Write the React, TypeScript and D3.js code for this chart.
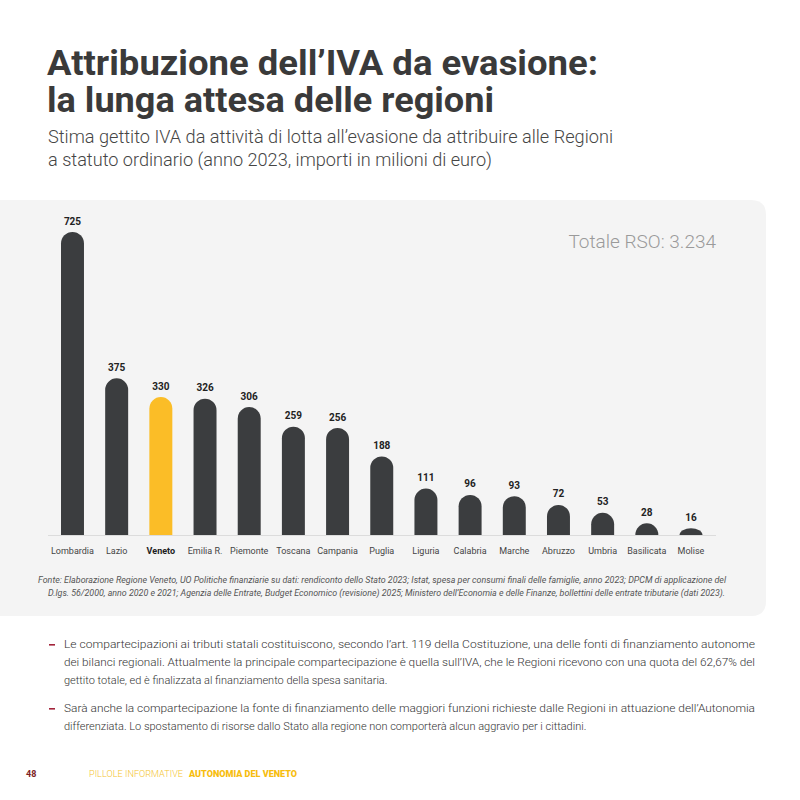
import React from "react";
import * as d3 from "d3";

// ── Data ─────────────────────────────────────────────────────────────────────

const REGIONS = [
  "Lombardia", "Lazio", "Veneto", "Emilia R.", "Piemonte", "Toscana", "Campania",
  "Puglia", "Liguria", "Calabria", "Marche", "Abruzzo", "Umbria", "Basilicata", "Molise",
];
const VALUES = [725, 375, 330, 326, 306, 259, 256, 188, 111, 96, 93, 72, 53, 28, 16];
const HIGHLIGHT = "Veneto";
const TOTAL_LABEL = "Totale RSO: 3.234";

const TITLE_LINES = ["Attribuzione dell\u2019IVA da evasione:", "la lunga attesa delle regioni"];
const SUBTITLE_LINES = [
  "Stima gettito IVA da attività di lotta all\u2019evasione da attribuire alle Regioni",
  "a statuto ordinario (anno 2023, importi in milioni di euro)",
];
const SOURCE_LINES = [
  "Fonte: Elaborazione Regione Veneto, UO Politiche finanziarie su dati: rendiconto dello Stato 2023; Istat, spesa per consumi finali delle famiglie, anno 2023; DPCM di applicazione del",
  "D.lgs. 56/2000, anno 2020 e 2021; Agenzia delle Entrate, Budget Economico (revisione) 2025; Ministero dell\u2019Economia e delle Finanze, bollettini delle entrate tributarie (dati 2023).",
];
const NOTES = [
  [
    "Le compartecipazioni ai tributi statali costituiscono, secondo l\u2019art. 119 della Costituzione, una delle fonti di finanziamento autonome",
    "dei bilanci regionali. Attualmente la principale compartecipazione è quella sull\u2019IVA, che le Regioni ricevono con una quota del 62,67% del",
    "gettito totale, ed è finalizzata al finanziamento della spesa sanitaria.",
  ],
  [
    "Sarà anche la compartecipazione la fonte di finanziamento delle maggiori funzioni richieste dalle Regioni in attuazione dell\u2019Autonomia",
    "differenziata. Lo spostamento di risorse dallo Stato alla regione non comporterà alcun aggravio per i cittadini.",
  ],
];

// ── Style ────────────────────────────────────────────────────────────────────

const FONT = "Roboto, 'Open Sans', sans-serif";
const BAR = "#3b3d3f";
const YELLOW = "#fbbd27";
const PANEL = "#f4f4f4";

const W = 800;
const H = 800;
const baseY = 535;
const topY = 232;

// rounded-top bar; flattens the dome when the bar is shorter than its radius
function barPath(x: number, w: number, y: number, bottom: number) {
  const r = w / 2;
  const h = bottom - y;
  const ry = Math.min(r, h);
  return `M${x},${bottom} L${x},${y + ry} A${r},${ry} 0 0 1 ${x + w},${y + ry} L${x + w},${bottom} Z`;
}

export default function App() {
  const x = d3
    .scaleBand<string>()
    .domain(REGIONS)
    .range([50.4, 713.1])
    .paddingInner(0.48)
    .paddingOuter(0.24);

  const y = d3.scaleLinear().domain([0, d3.max(VALUES)!]).range([baseY, topY]);

  return (
    <div style={{ position: "absolute", left: 0, top: 0 }}>
      <svg width={W} height={H} style={{ display: "block", background: "#fff" }}>
        {/* Heading */}
        <g fontFamily={FONT} fill="#3a3a3a">
          <text x={47} y={75} fontSize={35} fontWeight={700} textLength={551} lengthAdjust="spacingAndGlyphs">
            {TITLE_LINES[0]}
          </text>
          <text x={47} y={112} fontSize={35} fontWeight={700} textLength={447} lengthAdjust="spacingAndGlyphs">
            {TITLE_LINES[1]}
          </text>
          <text x={48} y={143} fontSize={18} fontWeight={300} fill="#454545" textLength={565} lengthAdjust="spacingAndGlyphs">
            {SUBTITLE_LINES[0]}
          </text>
          <text x={48} y={166} fontSize={18} fontWeight={300} fill="#454545" textLength={444} lengthAdjust="spacingAndGlyphs">
            {SUBTITLE_LINES[1]}
          </text>
        </g>

        {/* Panel, square on the left, rounded on the right */}
        <path
          d={`M0,200 L751,200 Q766,200 766,215 L766,601 Q766,616 751,616 L0,616 Z`}
          fill={PANEL}
        />

        <text x={716} y={248} textAnchor="end" fontFamily={FONT} fontSize={19} fontWeight={300} fill="#9a9a9a">
          {TOTAL_LABEL}
        </text>

        {/* Baseline */}
        <line x1={48} x2={716} y1={baseY + 0.5} y2={baseY + 0.5} stroke="#dcdcdc" strokeWidth={1} />

        {/* Bars */}
        {REGIONS.map((r, i) => (
          <path
            key={r}
            d={barPath(x(r)!, x.bandwidth(), y(VALUES[i]), baseY)}
            fill={r === HIGHLIGHT ? YELLOW : BAR}
          />
        ))}

        {/* Value labels */}
        <g fontFamily={FONT} fontSize={10} fontWeight={700} fill="#222" textAnchor="middle">
          {REGIONS.map((r, i) => (
            <text key={r} x={x(r)! + x.bandwidth() / 2} y={y(VALUES[i]) - 7.5}>
              {VALUES[i]}
            </text>
          ))}
        </g>

        {/* Category labels */}
        <g fontFamily={FONT} fontSize={9} fill="#444" textAnchor="middle">
          {REGIONS.map((r) => (
            <text
              key={r}
              x={x(r)! + x.bandwidth() / 2}
              y={554}
              fontWeight={r === HIGHLIGHT ? 700 : 400}
              fill={r === HIGHLIGHT ? "#222" : "#444"}
            >
              {r}
            </text>
          ))}
        </g>

        {/* Source */}
        <g fontFamily={FONT} fontSize={8.5} fontStyle="italic" fill="#555">
          <text x={38} y={583} textLength={688} lengthAdjust="spacingAndGlyphs">
            {SOURCE_LINES[0]}
          </text>
          <text x={48} y={596} textLength={677} lengthAdjust="spacingAndGlyphs">
            {SOURCE_LINES[1]}
          </text>
        </g>

        {/* Notes */}
        <g fontFamily={FONT} fontSize={11} fontWeight={300} fill="#333">
          {NOTES.map((lines, bi) => {
            const y0 = bi === 0 ? 648 : 712;
            return (
              <g key={bi}>
                <rect x={49} y={y0 - 4} width={6} height={1.6} fill="#a3243b" />
                {lines.map((l, li) => {
                  const full = li < lines.length - 1;
                  return (
                    <text
                      key={li}
                      x={64}
                      y={y0 + li * 18}
                      textLength={full ? 691 : undefined}
                      lengthAdjust="spacingAndGlyphs"
                    >
                      {l}
                    </text>
                  );
                })}
              </g>
            );
          })}
        </g>

        {/* Footer */}
        <g fontFamily={FONT} fontSize={9}>
          <text x={26} y={777} fontWeight={700} fill="#7d1f1f">48</text>
          <text x={89} y={777} fontWeight={300} fill="#f4c430" textLength={94} lengthAdjust="spacingAndGlyphs">
            PILLOLE INFORMATIVE
          </text>
          <text x={189} y={777} fontWeight={900} fill="#f7bd0f" textLength={108} lengthAdjust="spacingAndGlyphs">
            AUTONOMIA DEL VENETO
          </text>
        </g>
      </svg>
    </div>
  );
}
